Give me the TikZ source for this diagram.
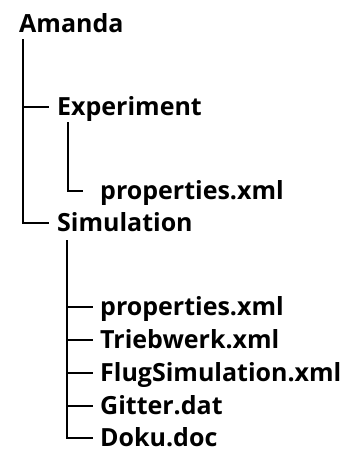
\documentclass[tikz,border=0pt]{standalone}
\usepackage{fontspec}
\setmainfont{Open Sans}
\begin{document}
\begin{tikzpicture}[x=1pt,y=-1pt,
  entry/.style={anchor=base west,inner sep=0pt,text height=17pt,text depth=0pt,
    font=\fontsize{25}{30}\selectfont\bfseries},
  branch/.style={line width=2pt}]
\useasboundingbox (0,0) rectangle (349,451);
% folders and files
\node[entry] (amanda) at (19,32) {Amanda};
\node[entry] (exp) at (57,115.5) {Experiment};
\node[entry] (expprop) at (100,199.5) {properties.xml};
\node[entry] (sim) at (57,231.5) {Simulation};
\node[entry] (simprop) at (100,315.5) {properties.xml};
\node[entry] (trieb) at (100,348.5) {Triebwerk.xml};
\node[entry] (flug) at (100,381.5) {FlugSimulation.xml};
\node[entry] (gitter) at (100,414.5) {Gitter.dat};
\node[entry] (doku) at (100,446.5) {Doku.doc};
% stems
\coordinate (amstem) at ([xshift=4.3pt,yshift=-7pt]amanda.base west);
\coordinate (expstem) at ([xshift=11pt,yshift=-6.5pt]exp.base west);
\coordinate (simstem) at ([xshift=10pt,yshift=-8.5pt]sim.base west);
\draw[branch] (amstem) |- ([xshift=-8pt]exp.west);
\draw[branch] (amstem) |- ([xshift=-8pt]sim.west);
\draw[branch] (expstem) |- ([xshift=-17pt]expprop.west);
\foreach \f in {simprop,trieb,flug,gitter,doku}
  \draw[branch] (simstem) |- ([xshift=-7pt]\f.west);
\end{tikzpicture}
\end{document}
